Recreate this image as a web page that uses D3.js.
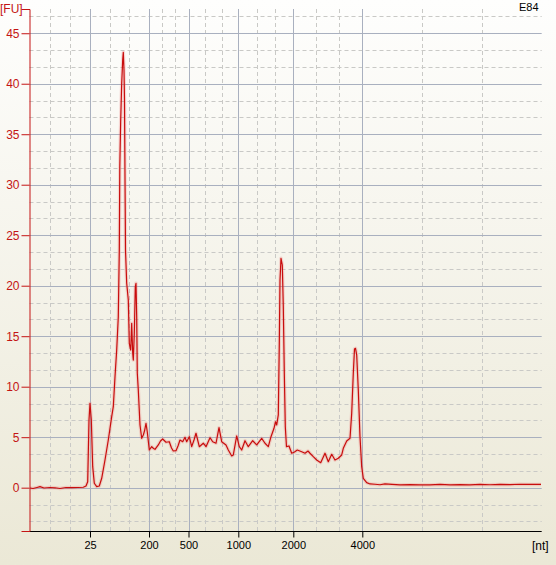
<!DOCTYPE html>
<html>
<head>
<meta charset="utf-8">
<script src="https://cdn.jsdelivr.net/npm/d3@7"></script>
<style>
  html, body { margin: 0; padding: 0; }
  body { width: 556px; height: 565px; overflow: hidden; }
  text { font-family: "Liberation Sans", Arial, sans-serif; font-size: 11px; }
</style>
</head>
<body>
<script>
// ladder peaks (nt) and their migration time (s)
var ladderSize = [25, 200, 500, 1000, 2000, 4000];
var ladderTime = [25.05, 30.95, 34.9, 39.88, 45.38, 52.28];
var yTicks = [0, 5, 10, 15, 20, 25, 30, 35, 40, 45];
var sampleName = "E84";

// electropherogram trace: time (s) / fluorescence (FU)
var traceTime = [
  19.05, 19.35, 19.75, 20.05, 20.45, 21.05, 21.55, 22.05, 22.65, 23.25,
  23.85, 24.38, 24.65, 24.82, 24.95, 25.05, 25.18, 25.32, 25.48, 25.72,
  25.98, 26.22, 26.55, 26.88, 27.22, 27.38, 27.55, 27.72, 27.88, 27.98,
  28.03, 28.12, 28.22, 28.32, 28.38, 28.45, 28.50, 28.55, 28.60, 28.72,
  28.88, 28.98, 29.12, 29.22, 29.32, 29.38, 29.48, 29.58, 29.65, 29.72,
  29.78, 29.88, 30.05, 30.22, 30.38, 30.50, 30.65, 30.78, 30.98, 31.22,
  31.40, 31.55, 31.88, 32.10, 32.32, 32.65, 32.98, 33.20, 33.38, 33.65,
  33.85, 34.05, 34.32, 34.55, 34.72, 34.98, 35.22, 35.45, 35.65, 35.98,
  36.38, 36.65, 37.05, 37.32, 37.65, 37.95, 38.22, 38.65, 38.88, 39.22,
  39.38, 39.72, 39.98, 40.22, 40.55, 40.88, 41.32, 41.72, 42.22, 42.55,
  42.88, 43.15, 43.45, 43.60, 43.72, 43.88, 43.98, 44.05, 44.15, 44.28,
  44.38, 44.48, 44.58, 44.70, 44.95, 45.22, 45.50, 45.78, 46.22, 46.55,
  46.85, 47.05, 47.38, 47.72, 48.12, 48.55, 48.88, 49.22, 49.55, 49.88,
  50.22, 50.38, 50.72, 51.05, 51.22, 51.38, 51.50, 51.60, 51.72, 51.88,
  52.05, 52.22, 52.38, 52.72, 53.05, 53.55, 54.05, 54.55, 55.25, 56.05,
  57.05, 58.05, 59.05, 60.05, 61.05, 62.05, 63.05, 64.05, 65.05, 66.05,
  67.05, 68.05, 69.05, 70.15
];
var traceFU = [
  -0.03, -0.08, 0.02, 0.10, -0.03, 0.02, -0.01, -0.08, 0.02, 0.00,
  0.02, 0.04, 0.17, 0.59, 6.70, 8.36, 6.70, 2.08, 0.44, 0.10,
  0.17, 0.93, 2.74, 4.72, 7.03, 8.02, 10.99, 13.63, 16.93, 23.53,
  31.78, 36.41, 40.04, 42.35, 43.11, 41.36, 38.39, 30.66, 23.53, 20.24,
  18.58, 14.30, 13.63, 16.28, 13.31, 12.64, 15.29, 19.90, 20.24, 16.93,
  11.33, 9.67, 6.21, 4.89, 5.22, 5.61, 6.38, 5.51, 3.73, 4.06,
  3.88, 3.80, 4.23, 4.62, 4.82, 4.50, 4.55, 3.93, 3.63, 3.66,
  4.13, 4.72, 4.55, 4.99, 4.55, 5.05, 4.06, 4.72, 5.39, 4.06,
  4.40, 4.06, 4.95, 4.55, 4.40, 5.94, 4.55, 4.23, 3.73, 3.14,
  3.24, 5.12, 4.06, 3.73, 4.65, 4.06, 4.65, 4.23, 4.89, 4.40,
  4.06, 5.05, 5.88, 6.53, 6.21, 7.20, 14.30, 20.56, 22.71, 22.05,
  17.92, 11.36, 6.04, 4.06, 4.13, 3.41, 3.53, 3.73, 3.56, 3.41,
  3.63, 3.41, 3.07, 2.74, 2.48, 3.41, 2.57, 3.31, 2.74, 2.91,
  3.24, 3.90, 4.62, 4.89, 7.37, 11.33, 13.73, 13.80, 13.14, 9.67,
  5.05, 2.08, 0.93, 0.50, 0.37, 0.34, 0.29, 0.37, 0.32, 0.27,
  0.30, 0.27, 0.27, 0.32, 0.27, 0.30, 0.27, 0.32, 0.29, 0.32,
  0.30, 0.34, 0.32, 0.32
];

var W = 556, H = 565;
var tMin = 19, tMax = 70.22;
var fuMin = -4.29, fuMax = 47.4;

var svg = d3.select("body").append("svg")
  .attr("width", W)
  .attr("height", H);

// background
var grad = svg.append("defs").append("linearGradient")
  .attr("id", "bg")
  .attr("x1", 0).attr("y1", 0).attr("x2", 0).attr("y2", 1);
grad.append("stop").attr("offset", 0).attr("stop-color", "#fefefd");
grad.append("stop").attr("offset", 1).attr("stop-color", "#ebe8d6");
svg.append("rect").attr("width", W).attr("height", H).attr("fill", "url(#bg)");

var x = d3.scaleLinear().domain([tMin, tMax]).range([29.5, 541.7]);
var y = d3.scaleLinear().domain([fuMin, fuMax]).range([531, 9]);

// minor grid: thirds between major lines
var xBounds = [tMin].concat(ladderTime, [tMax]);
var xMinor = [];
for (var i = 0; i < xBounds.length - 1; i++) {
  var step = (xBounds[i + 1] - xBounds[i]) / 3;
  xMinor.push(xBounds[i] + step, xBounds[i] + 2 * step);
}
var yMinor = [];
[-5].concat(yTicks).forEach(function(v){
  [v + 5 / 3, v + 10 / 3].forEach(function(m){
    if (m > fuMin && m < fuMax) yMinor.push(m);
  });
});

var grid = svg.append("g");
grid.selectAll("line.ymin").data(yMinor).enter().append("line")
  .attr("x1", x(tMin)).attr("x2", x(tMax))
  .attr("y1", function(d){ return Math.round(y(d)) + 0.5; })
  .attr("y2", function(d){ return Math.round(y(d)) + 0.5; })
  .attr("stroke", "#c9c9c6").attr("stroke-dasharray", "4,3");
grid.selectAll("line.xmin").data(xMinor).enter().append("line")
  .attr("y1", y(fuMax)).attr("y2", y(fuMin))
  .attr("x1", function(d){ return Math.round(x(d)) + 0.5; })
  .attr("x2", function(d){ return Math.round(x(d)) + 0.5; })
  .attr("stroke", "#c9c9c6").attr("stroke-dasharray", "4,3");
grid.selectAll("line.ymaj").data(yTicks).enter().append("line")
  .attr("x1", x(tMin)).attr("x2", x(tMax))
  .attr("y1", function(d){ return Math.round(y(d)) + 0.5; })
  .attr("y2", function(d){ return Math.round(y(d)) + 0.5; })
  .attr("stroke", "#a9b0bf");
grid.selectAll("line.xmaj").data(ladderTime).enter().append("line")
  .attr("y1", y(fuMax)).attr("y2", y(fuMin))
  .attr("x1", function(d){ return Math.round(x(d)) + 0.5; })
  .attr("x2", function(d){ return Math.round(x(d)) + 0.5; })
  .attr("stroke", "#a9b0bf");

// trace
var pts = traceTime.map(function(t, i){ return [t, traceFU[i]]; });
var line = d3.line()
  .x(function(d){ return x(d[0]); })
  .y(function(d){ return y(d[1]); });
svg.append("path").datum(pts)
  .attr("d", line)
  .attr("fill", "none")
  .attr("stroke", "rgba(235,110,110,0.25)")
  .attr("stroke-width", 3.5)
  .attr("stroke-linejoin", "round");
svg.append("path").datum(pts)
  .attr("d", line)
  .attr("fill", "none")
  .attr("stroke", "#c80d0d")
  .attr("stroke-width", 1.2)
  .attr("stroke-linejoin", "round");

// x axis (ladder sizes)
var xAxis = d3.axisBottom(x)
  .tickValues(ladderTime)
  .tickFormat(function(d, i){ return ladderSize[i]; })
  .tickSizeOuter(0)
  .tickSize(6)
  .tickPadding(4);
var gx = svg.append("g")
  .attr("transform", "translate(0,531.5)")
  .call(xAxis);
gx.select(".domain").attr("stroke", "#000").attr("d", "M29.5,0H541.7");
gx.selectAll(".tick line").attr("stroke", "#000");
gx.selectAll(".tick text")
  .attr("fill", "#000")
  .style("font-family", "Liberation Sans, Arial, sans-serif")
  .style("font-size", "11px");

// y axis
var yAxis = d3.axisLeft(y)
  .tickValues(yTicks)
  .tickSizeOuter(0)
  .tickSize(8)
  .tickPadding(2);
var gy = svg.append("g")
  .attr("transform", "translate(29.5,0)")
  .call(yAxis);
gy.select(".domain").attr("stroke", "#c41414");
gy.selectAll(".tick line").attr("stroke", "#c41414");
gy.selectAll(".tick text")
  .attr("fill", "#c41414")
  .style("font-family", "Liberation Sans, Arial, sans-serif")
  .style("font-size", "12px");

svg.append("text").attr("x", 0).attr("y", 13)
  .attr("fill", "#c41414").style("font-size", "12px").text("[FU]");
svg.append("text").attr("x", 532).attr("y", 550)
  .attr("fill", "#000").style("font-size", "12px").text("[nt]");
svg.append("text").attr("x", 519).attr("y", 11)
  .attr("fill", "#000").style("font-size", "11px").text(sampleName);
</script>
</body>
</html>
